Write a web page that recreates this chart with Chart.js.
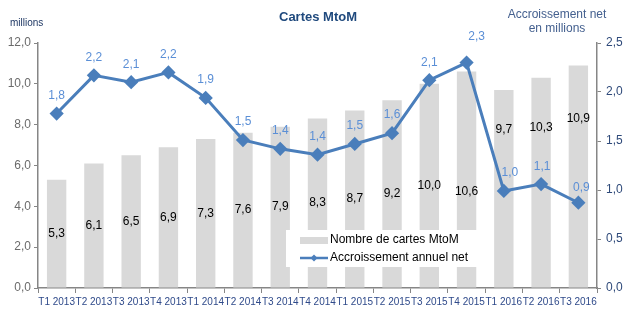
<!DOCTYPE html>
<html>
<head>
<meta charset="utf-8">
<script src="https://cdn.jsdelivr.net/npm/chart.js@4"></script>
<style>
  html, body { margin: 0; padding: 0; background: #fff; }
  #wrap { width: 634px; height: 326px; }
</style>
</head>
<body>
<div id="wrap"><canvas id="chart" width="634" height="326"></canvas></div>
<script>
const quarters = ['T1 2013', 'T2 2013', 'T3 2013', 'T4 2013', 'T1 2014', 'T2 2014', 'T3 2014', 'T4 2014',
    'T1 2015', 'T2 2015', 'T3 2015', 'T4 2015', 'T1 2016', 'T2 2016', 'T3 2016'];
const cartes = [5.3, 6.1, 6.5, 6.9, 7.3, 7.6, 7.9, 8.3, 8.7, 9.2, 10.0, 10.6, 9.7, 10.3, 10.9];
const accroissement = [1.78, 2.17, 2.10, 2.20, 1.94, 1.51, 1.42, 1.36, 1.47, 1.58, 2.12, 2.30, 0.99, 1.06, 0.87];
const leftTicks = [0, 2, 4, 6, 8, 10, 12];
const rightTicks = [0, 0.5, 1, 1.5, 2, 2.5];

const fmt = v => v.toFixed(1).replace('.', ',');
const font = 'Liberation Sans, Arial, sans-serif';

// some labels were moved by hand in the original so they don't hit the line
const barLabelShift = { 11: 12, 12: -59, 13: -55, 14: -58 };
const lineLabelShift = { 11: [10, -26], 12: [6, -18], 13: [1, -17], 14: [3, -15] };

// texts around the plot and the value labels
const extras = {
    id: 'extras',
    afterDatasetsDraw(chart) {
        const ctx = chart.ctx;
        ctx.save();

        // bar labels at the middle of each bar
        const barMeta = chart.getDatasetMeta(1);
        ctx.font = '12px ' + font;
        ctx.fillStyle = '#000';
        ctx.textAlign = 'center';
        ctx.textBaseline = 'middle';
        barMeta.data.forEach((bar, i) => {
            const dy = barLabelShift[i] || 0;
            ctx.fillText(fmt(cartes[i]), bar.x, (bar.y + bar.base) / 2 + dy);
        });

        // legend box
        ctx.fillStyle = '#fff';
        ctx.fillRect(286, 230, 195, 37);
        ctx.fillStyle = '#d9d9d9';
        ctx.fillRect(300, 237, 28, 7);
        ctx.strokeStyle = '#4a7ebb';
        ctx.lineWidth = 2.5;
        ctx.beginPath();
        ctx.moveTo(300, 258);
        ctx.lineTo(328, 258);
        ctx.stroke();
        ctx.fillStyle = '#4a7ebb';
        ctx.beginPath();
        ctx.moveTo(314, 254.5);
        ctx.lineTo(317.5, 258);
        ctx.lineTo(314, 261.5);
        ctx.lineTo(310.5, 258);
        ctx.closePath();
        ctx.fill();
        ctx.fillStyle = '#000';
        ctx.font = '12px ' + font;
        ctx.textAlign = 'left';
        ctx.fillText('Nombre de cartes MtoM', 330, 240);
        ctx.fillText('Accroissement annuel net', 330, 258);

        ctx.restore();
    },
    afterDraw(chart) {
        const ctx = chart.ctx;
        ctx.save();

        // line labels above the points
        const lineMeta = chart.getDatasetMeta(0);
        ctx.font = '12px ' + font;
        ctx.fillStyle = '#5b8fd6';
        ctx.textAlign = 'center';
        ctx.textBaseline = 'middle';
        lineMeta.data.forEach((pt, i) => {
            const s = lineLabelShift[i] || [0, -18];
            ctx.fillText(fmt(accroissement[i]), pt.x + s[0], pt.y + s[1]);
        });

        ctx.font = 'bold 13px ' + font;
        ctx.fillStyle = '#1f497d';
        ctx.fillText('Cartes MtoM', 318, 17);

        ctx.font = '10px ' + font;
        ctx.fillStyle = '#1f3864';
        ctx.textAlign = 'left';
        ctx.fillText('millions', 10, 23);

        ctx.font = '12px ' + font;
        ctx.fillStyle = '#44608f';
        ctx.textAlign = 'center';
        ctx.fillText('Accroissement net', 557, 15);
        ctx.fillText('en millions', 557, 29);

        ctx.restore();
    }
};

new Chart(document.getElementById('chart').getContext('2d'), {
    type: 'bar',
    data: {
        labels: quarters,
        datasets: [{
            type: 'line',
            label: 'Accroissement annuel net',
            data: accroissement,
            yAxisID: 'y1',
            borderColor: '#4a7ebb',
            backgroundColor: '#4a7ebb',
            borderWidth: 3,
            pointStyle: 'rectRot',
            pointRadius: 5,
            pointHoverRadius: 5,
            tension: 0,
            order: 0
        }, {
            label: 'Nombre de cartes MtoM',
            data: cartes,
            yAxisID: 'y',
            backgroundColor: '#d9d9d9',
            barPercentage: 0.52,
            categoryPercentage: 1,
            order: 1
        }]
    },
    options: {
        responsive: false,
        animation: false,
        layout: { padding: { top: 43, left: 0, right: 0, bottom: 0 } },
        plugins: {
            legend: { display: false },
            tooltip: { enabled: false }
        },
        scales: {
            x: {
                offset: true,
                grid: {
                    display: true,
                    drawOnChartArea: false,
                    drawTicks: true,
                    tickLength: 5,
                    offset: true,
                    color: '#868686'
                },
                border: { color: '#868686', width: 1.5 },
                ticks: {
                    autoSkip: false,
                    maxRotation: 0,
                    minRotation: 0,
                    padding: 3,
                    color: '#2f4a8a',
                    font: { family: font, size: 10 }
                },
                afterFit(scale) { scale.height = 38; }
            },
            y: {
                position: 'left',
                min: 0,
                max: 12,
                afterBuildTicks(scale) { scale.ticks = leftTicks.map(v => ({ value: v })); },
                grid: { drawOnChartArea: false, tickLength: 4, color: '#868686' },
                border: { color: '#868686', width: 1.5 },
                ticks: {
                    padding: 3,
                    color: '#6b6b6b',
                    font: { family: font, size: 12 },
                    callback: v => fmt(v)
                },
                afterFit(scale) { scale.width = 38; }
            },
            y1: {
                position: 'right',
                min: 0,
                max: 2.5,
                afterBuildTicks(scale) { scale.ticks = rightTicks.map(v => ({ value: v })); },
                grid: { drawOnChartArea: false, tickLength: 4, color: '#868686' },
                border: { color: '#868686', width: 1.5 },
                ticks: {
                    padding: 5,
                    color: '#2f4a7a',
                    font: { family: font, size: 12 },
                    callback: v => fmt(v)
                },
                afterFit(scale) { scale.width = 37; }
            }
        }
    },
    plugins: [extras]
});
</script>
</body>
</html>
